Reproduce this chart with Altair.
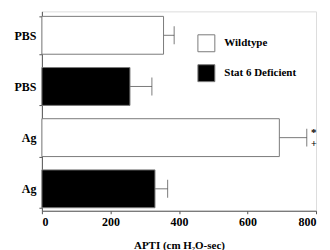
import altair as alt
import pandas as pd

# ---- data ----
treatments = ["PBS", "PBS", "Ag", "Ag"]
groups = ["Wildtype", "Stat 6 Deficient", "Wildtype", "Stat 6 Deficient"]
means = [355, 257, 693, 330]
upper = [386, 321, 773, 367]
sig_symbols = ["*", "+"]
sig_row_index = 2
x_ticks = [0, 100, 200, 300, 400, 500, 600, 700, 800]

row_ids = [f"{t}-{i}" for i, t in enumerate(treatments)]
df = pd.DataFrame({"row": row_ids, "group": groups, "mean": means, "upper": upper})
sig_df = pd.DataFrame({"row": [row_ids[sig_row_index]] * 2,
                       "upper": [upper[sig_row_index]] * 2,
                       "sym": sig_symbols})

FONT = "Liberation Serif"
GRAY = "#7a7a7a"

y_enc = alt.Y("row:N", sort=row_ids,
              scale=alt.Scale(paddingInner=0.26, paddingOuter=0.078, align=0.625),
              axis=alt.Axis(title=None, labelExpr="split(datum.label, '-')[0]",
                            tickBand="extent", tickSize=3, labelPadding=3,
                            labelFont=FONT, labelFontWeight="bold", labelFontSize=12,
                            labelColor="black", domainColor="#555", tickColor="#555"))

x_scale = alt.Scale(domain=[0, 800], nice=False)

bars = alt.Chart(df).mark_bar(stroke=GRAY, strokeWidth=1).encode(
    y=y_enc,
    x=alt.X("mean:Q", scale=x_scale,
            axis=alt.Axis(values=x_ticks, grid=False,
                          labelExpr="datum.value % 200 == 0 ? datum.label : ''",
                          title="APTI (cm H₂O-sec)", tickSize=3, labelPadding=3,
                          labelFont=FONT, labelFontWeight="bold", labelFontSize=12,
                          labelColor="black", titleFont=FONT, titleFontWeight="bold",
                          titleFontSize=11, titleColor="black", titlePadding=12,
                          domainColor="#555", tickColor="#555")),
    color=alt.Color("group:N",
                    scale=alt.Scale(domain=["Wildtype", "Stat 6 Deficient"],
                                    range=["white", "black"]),
                    legend=alt.Legend(title=None, orient="none", legendX=156, legendY=23,
                                      symbolType="square", symbolSize=289,
                                      symbolStrokeColor=GRAY, symbolStrokeWidth=1,
                                      symbolOpacity=1, labelFont=FONT,
                                      labelFontWeight="bold", labelFontSize=11,
                                      labelColor="black", labelOffset=9,
                                      rowPadding=8, padding=0)),
)

err = alt.Chart(df).mark_rule(color=GRAY, strokeWidth=1).encode(
    y=alt.Y("row:N", sort=row_ids), x=alt.X("mean:Q", scale=x_scale), x2="upper:Q")

caps = alt.Chart(df).mark_tick(color="#444", thickness=1, size=18).encode(
    y=alt.Y("row:N", sort=row_ids), x=alt.X("upper:Q", scale=x_scale))

star = alt.Chart(sig_df).transform_filter(alt.datum.sym == "*").mark_text(
    font=FONT, fontWeight="bold", fontSize=11, dx=7, dy=-5, align="center", color="black"
).encode(y=alt.Y("row:N", sort=row_ids), x=alt.X("upper:Q", scale=x_scale), text="sym:N")

plus = alt.Chart(sig_df).transform_filter(alt.datum.sym == "+").mark_text(
    font=FONT, fontWeight="bold", fontSize=10, dx=7, dy=6, align="center", color="black"
).encode(y=alt.Y("row:N", sort=row_ids), x=alt.X("upper:Q", scale=x_scale), text="sym:N")

chart = alt.layer(bars, err, caps, star, plus).properties(
    width=275, height=200,
    padding={"left": 5, "top": -3, "right": 5, "bottom": 0},
).configure_view(stroke=None).configure(background="white")

chart.save("out.html", embed_options={"renderer": "svg", "actions": False})
